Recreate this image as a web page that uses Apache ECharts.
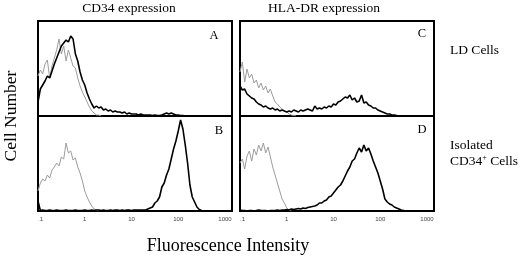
<!DOCTYPE html>
<html>
<head>
<meta charset="utf-8">
<script src="https://cdn.jsdelivr.net/npm/echarts@6/dist/echarts.min.js"></script>
<style>
  html, body { margin: 0; padding: 0; background: #fff; }
  #chart { width: 520px; height: 259px; }
</style>
</head>
<body>
<div id="chart"></div>
<script>
// log fluorescence channels, 0.05 decade each, channel 0 = 0.1
const channelCount = 84;
const tickLabels = ['.1', '1', '10', '100', '1000'];

// CD34, LD cells (A)
const cd34LdIso = [40, 46, 42, 52, 56, 38, 50, 58, 66, 77, 62, 70, 55, 66, 58, 50, 48, 38, 30, 24, 19, 14, 9, 5, 3, 1, 1, 0];
const cd34LdStain = [14, 27, 31, 35, 40, 38, 45, 52, 58, 64, 70, 73, 76, 74, 80, 77, 62, 55, 44, 36,
  31, 23, 17, 12, 8, 10, 8, 9, 6, 7, 5, 6, 4, 5, 4, 4, 3, 4, 2, 3,
  2, 2, 2, 1, 2, 1, 1, 1, 1, 0.5, 1, 0.5, 0.5, 1, 2, 3, 2, 3, 2, 1, 1, 0.5, 0.5, 0];
// CD34, isolated CD34+ cells (B)
const cd34PosIso = [20, 28, 32, 30, 36, 33, 41, 44, 48, 45, 54, 52, 68, 58, 60, 51, 53, 44, 38, 30, 20, 14, 9, 5, 2, 1, 0];
const cd34PosStain = [10, 0.5, 1, 0.5, 0.5, 1, 0.5, 0.5, 1, 0.5, 0.5, 0.5, 1, 0.5, 0.5, 0.5, 1, 0.5, 0.5, 0.5,
  1, 0.5, 0.5, 1, 0.5, 1, 1, 0.5, 1, 0.5, 0.5, 1, 0.5, 1, 1, 0.5, 1, 0.5, 1, 1,
  0.5, 1, 1, 1, 1, 1, 1, 2, 3, 4, 8, 10, 14, 24, 28, 36, 42, 52, 62, 70,
  80, 91, 82, 66, 48, 26, 14, 9, 4, 1.5, 0.5, 0];
// HLA-DR, LD cells (C)
const hlaLdIso = [44, 54, 34, 47, 38, 42, 33, 36, 28, 33, 26, 30, 23, 27, 20, 14, 12, 9, 7, 5, 4, 2, 1, 0.5, 0];
const hlaLdStain = [30, 26, 27, 22, 20, 18, 17, 14, 12, 11, 9, 10, 8, 7, 8, 6, 7, 5, 6, 5,
  4, 5, 4, 6, 5, 4, 6, 5, 6, 7, 6, 5, 10, 7, 8, 7, 9, 8, 10, 9,
  12, 11, 14, 15, 17, 19, 18, 21, 16, 18, 14, 15, 21, 13, 14, 11, 10, 8, 8, 6,
  5, 4, 3, 2, 2, 1, 1, 0.5, 0];
// HLA-DR, isolated CD34+ cells (D)
const hlaPosIso = [48, 52, 42, 55, 60, 50, 62, 56, 66, 60, 68, 58, 64, 54, 44, 36, 28, 20, 12, 8, 3, 1, 0];
const hlaPosStain = [1, 0.5, 0.5, 0, 0.5, 0.5, 0, 0.5, 1, 0.5, 0.5, 0.5, 0, 0.5, 0.5, 0.5, 1, 0.5, 1, 1,
  1.5, 1, 2, 1.5, 2, 2.5, 2, 3, 2.5, 3.5, 4, 4.5, 5, 6, 8, 8, 10, 11, 14, 15,
  18, 21, 24, 26, 30, 35, 40, 44, 50, 52, 58, 63, 59, 66, 60, 63, 57, 50, 44, 38,
  30, 22, 12, 9, 7, 6, 4, 3, 2, 1, 0.5, 0];

const channels = [];
for (let i = 0; i < channelCount; i++) channels.push(i);

const serif = 'Liberation Serif';
const chart = echarts.init(document.getElementById('chart'));

const grids = [
  { left: 38, top: 21, width: 194, height: 95 },
  { left: 38, top: 116, width: 194, height: 95 },
  { left: 240, top: 21, width: 194, height: 95 },
  { left: 240, top: 116, width: 194, height: 95 }
];

function xAxisFor(idx, showLabels) {
  return {
    type: 'category',
    gridIndex: idx,
    data: channels,
    boundaryGap: false,
    axisLine: { show: false },
    axisTick: { show: false },
    axisLabel: {
      show: showLabels,
      interval: (i) => i % 20 === 0,
      formatter: (v, i) => tickLabels[i / 20],
      fontSize: 6,
      color: '#444',
      margin: 5,
      alignMinLabel: 'left'
    },
    splitLine: { show: false }
  };
}

function yAxisFor(idx) {
  return { type: 'value', gridIndex: idx, min: 0, max: 95, show: false, splitLine: { show: false } };
}

function line(idx, data, gray) {
  return {
    type: 'line',
    xAxisIndex: idx,
    yAxisIndex: idx,
    data: data,
    showSymbol: false,
    silent: true,
    z: gray ? 2 : 3,
    lineStyle: gray ? { color: '#9c9c9c', width: 1 } : { color: '#000', width: 1.6 }
  };
}

const labelText = (x, y, text, size, extra) => ({
  type: 'text',
  x: x,
  y: y,
  style: Object.assign({ text: text, font: size + 'px "' + serif + '"', fill: '#000' }, extra || {})
});

const option = {
  animation: false,
  grid: grids.map(g => Object.assign({ show: true, borderColor: '#000', borderWidth: 2, backgroundColor: 'transparent' }, g)),
  xAxis: [xAxisFor(0, false), xAxisFor(1, true), xAxisFor(2, false), xAxisFor(3, true)],
  yAxis: [yAxisFor(0), yAxisFor(1), yAxisFor(2), yAxisFor(3)],
  series: [
    line(0, cd34LdIso, true), line(0, cd34LdStain, false),
    line(1, cd34PosIso, true), line(1, cd34PosStain, false),
    line(2, hlaLdIso, true), line(2, hlaLdStain, false),
    line(3, hlaPosIso, true), line(3, hlaPosStain, false)
  ],
  graphic: [
    labelText(129, 8, 'CD34 expression', 13.5, { align: 'center', verticalAlign: 'middle' }),
    labelText(324, 8, 'HLA-DR expression', 13.5, { align: 'center', verticalAlign: 'middle' }),
    labelText(214, 36, 'A', 12.5, { align: 'center', verticalAlign: 'middle' }),
    labelText(219, 131, 'B', 12.5, { align: 'center', verticalAlign: 'middle' }),
    labelText(422, 34, 'C', 12.5, { align: 'center', verticalAlign: 'middle' }),
    labelText(422, 130, 'D', 12.5, { align: 'center', verticalAlign: 'middle' }),
    labelText(450, 50, 'LD Cells', 13.5, { align: 'left', verticalAlign: 'middle' }),
    labelText(450, 145, 'Isolated', 13.5, { align: 'left', verticalAlign: 'middle' }),
    {
      type: 'text',
      x: 450,
      y: 161,
      style: {
        text: 'CD34{s|+} Cells',
        font: '13.5px "' + serif + '"',
        fill: '#000',
        align: 'left',
        verticalAlign: 'middle',
        rich: { s: { fontSize: 8, fontFamily: serif, padding: [0, 0, 7, 0] } }
      }
    },
    labelText(228, 246, 'Fluorescence Intensity', 18, { align: 'center', verticalAlign: 'middle' }),
    {
      type: 'text',
      x: 11,
      y: 116,
      rotation: Math.PI / 2,
      style: { text: 'Cell Number', font: '17.5px "' + serif + '"', fill: '#000', align: 'center', verticalAlign: 'middle' }
    }
  ]
};

chart.setOption(option);
</script>
</body>
</html>
